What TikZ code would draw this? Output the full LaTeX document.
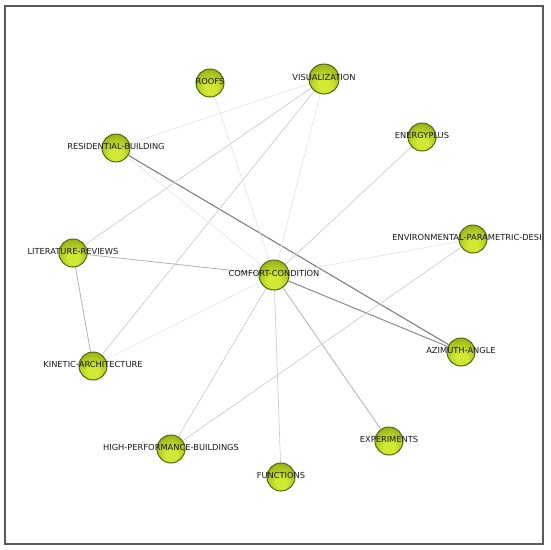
\documentclass[tikz,border=0pt]{standalone}
\usepackage{fontspec}
\setsansfont{DejaVu Sans}
\usetikzlibrary{backgrounds}
\definecolor{ballhi}{HTML}{D2E834}
\definecolor{ballmid}{HTML}{A4C01C}
\definecolor{balllo}{HTML}{627E12}
\definecolor{ballrim}{HTML}{50690F}
\pgfdeclareradialshading{nodeball}{\pgfpoint{0bp}{-12bp}}{color(0bp)=(ballhi); color(10bp)=(ballhi); color(28bp)=(ballmid); color(52bp)=(balllo); color(100bp)=(balllo)}

\begin{document}
\begin{tikzpicture}[
  x=1pt, y=-1pt,
  ball/.style={circle, minimum size=28pt, inner sep=0pt, shading=nodeball,
               draw=ballrim, line width=1pt},
  bigball/.style={ball, minimum size=30pt},
  tag/.style={font=\sffamily\fontsize{8.3}{9}\selectfont, text=black!90,
              inner sep=0pt, yshift=2pt},
  edgeA/.style={draw=black!50, line width=1.1pt},
  edgeB/.style={draw=black!30, line width=0.8pt},
  edgeC/.style={draw=black!20, line width=0.7pt},
  edgeD/.style={draw=black!10, line width=0.7pt}
]
\useasboundingbox (0,0) rectangle (550,550);
\draw[black!65, line width=1.2pt] (5,6) rectangle (543,544);

\node[ball, label={[tag]center:ROOFS}] (roofs) at (210,83) {};
\node[bigball, label={[tag]center:VISUALIZATION}] (visual) at (324,79) {};
\node[ball, label={[tag]center:RESIDENTIAL-BUILDING}] (resid) at (116,148) {};
\node[ball, label={[tag]center:ENERGYPLUS}] (energy) at (422,137) {};
\node[ball, label={[tag, xshift=-6pt]center:ENVIRONMENTAL-PARAMETRIC-DESI}] (envir) at (473,239) {};
\node[ball, label={[tag]center:LITERATURE-REVIEWS}] (litrev) at (73,253) {};
\node[bigball, label={[tag]center:COMFORT-CONDITION}] (comfort) at (274,275) {};
\node[ball, label={[tag]center:KINETIC-ARCHITECTURE}] (kinetic) at (93,366) {};
\node[ball, label={[tag]center:AZIMUTH-ANGLE}] (azimuth) at (461,352) {};
\node[ball, label={[tag]center:EXPERIMENTS}] (experim) at (389,441) {};
\node[ball, label={[tag]center:HIGH-PERFORMANCE-BUILDINGS}] (highperf) at (171,449) {};
\node[ball, label={[tag]center:FUNCTIONS}] (funct) at (281,477) {};

\begin{scope}[on background layer]
% strong links
\draw[edgeA] (resid) -- (azimuth);
\draw[edgeA, draw=black!45, line width=1pt] (comfort) -- (azimuth);
% medium links
\draw[edgeB] (litrev) -- (comfort);
\draw[edgeB] (litrev) -- (kinetic);
\draw[edgeB] (experim) -- (comfort);
% light links
\draw[edgeC] (litrev) -- (visual);
\draw[edgeC] (kinetic) -- (visual);
\draw[edgeC] (energy) -- (comfort);
\draw[edgeC] (envir) -- (highperf);
\draw[edgeC] (highperf) -- (comfort);
\draw[edgeC] (funct) -- (comfort);
% faint links
\draw[edgeD] (kinetic) -- (comfort);
\draw[edgeD] (resid) -- (visual);
\draw[edgeD] (resid) -- (comfort);
\draw[edgeD] (roofs) -- (comfort);
\draw[edgeD] (visual) -- (comfort);
\draw[edgeD] (envir) -- (comfort);
\end{scope}
\end{tikzpicture}
\end{document}
